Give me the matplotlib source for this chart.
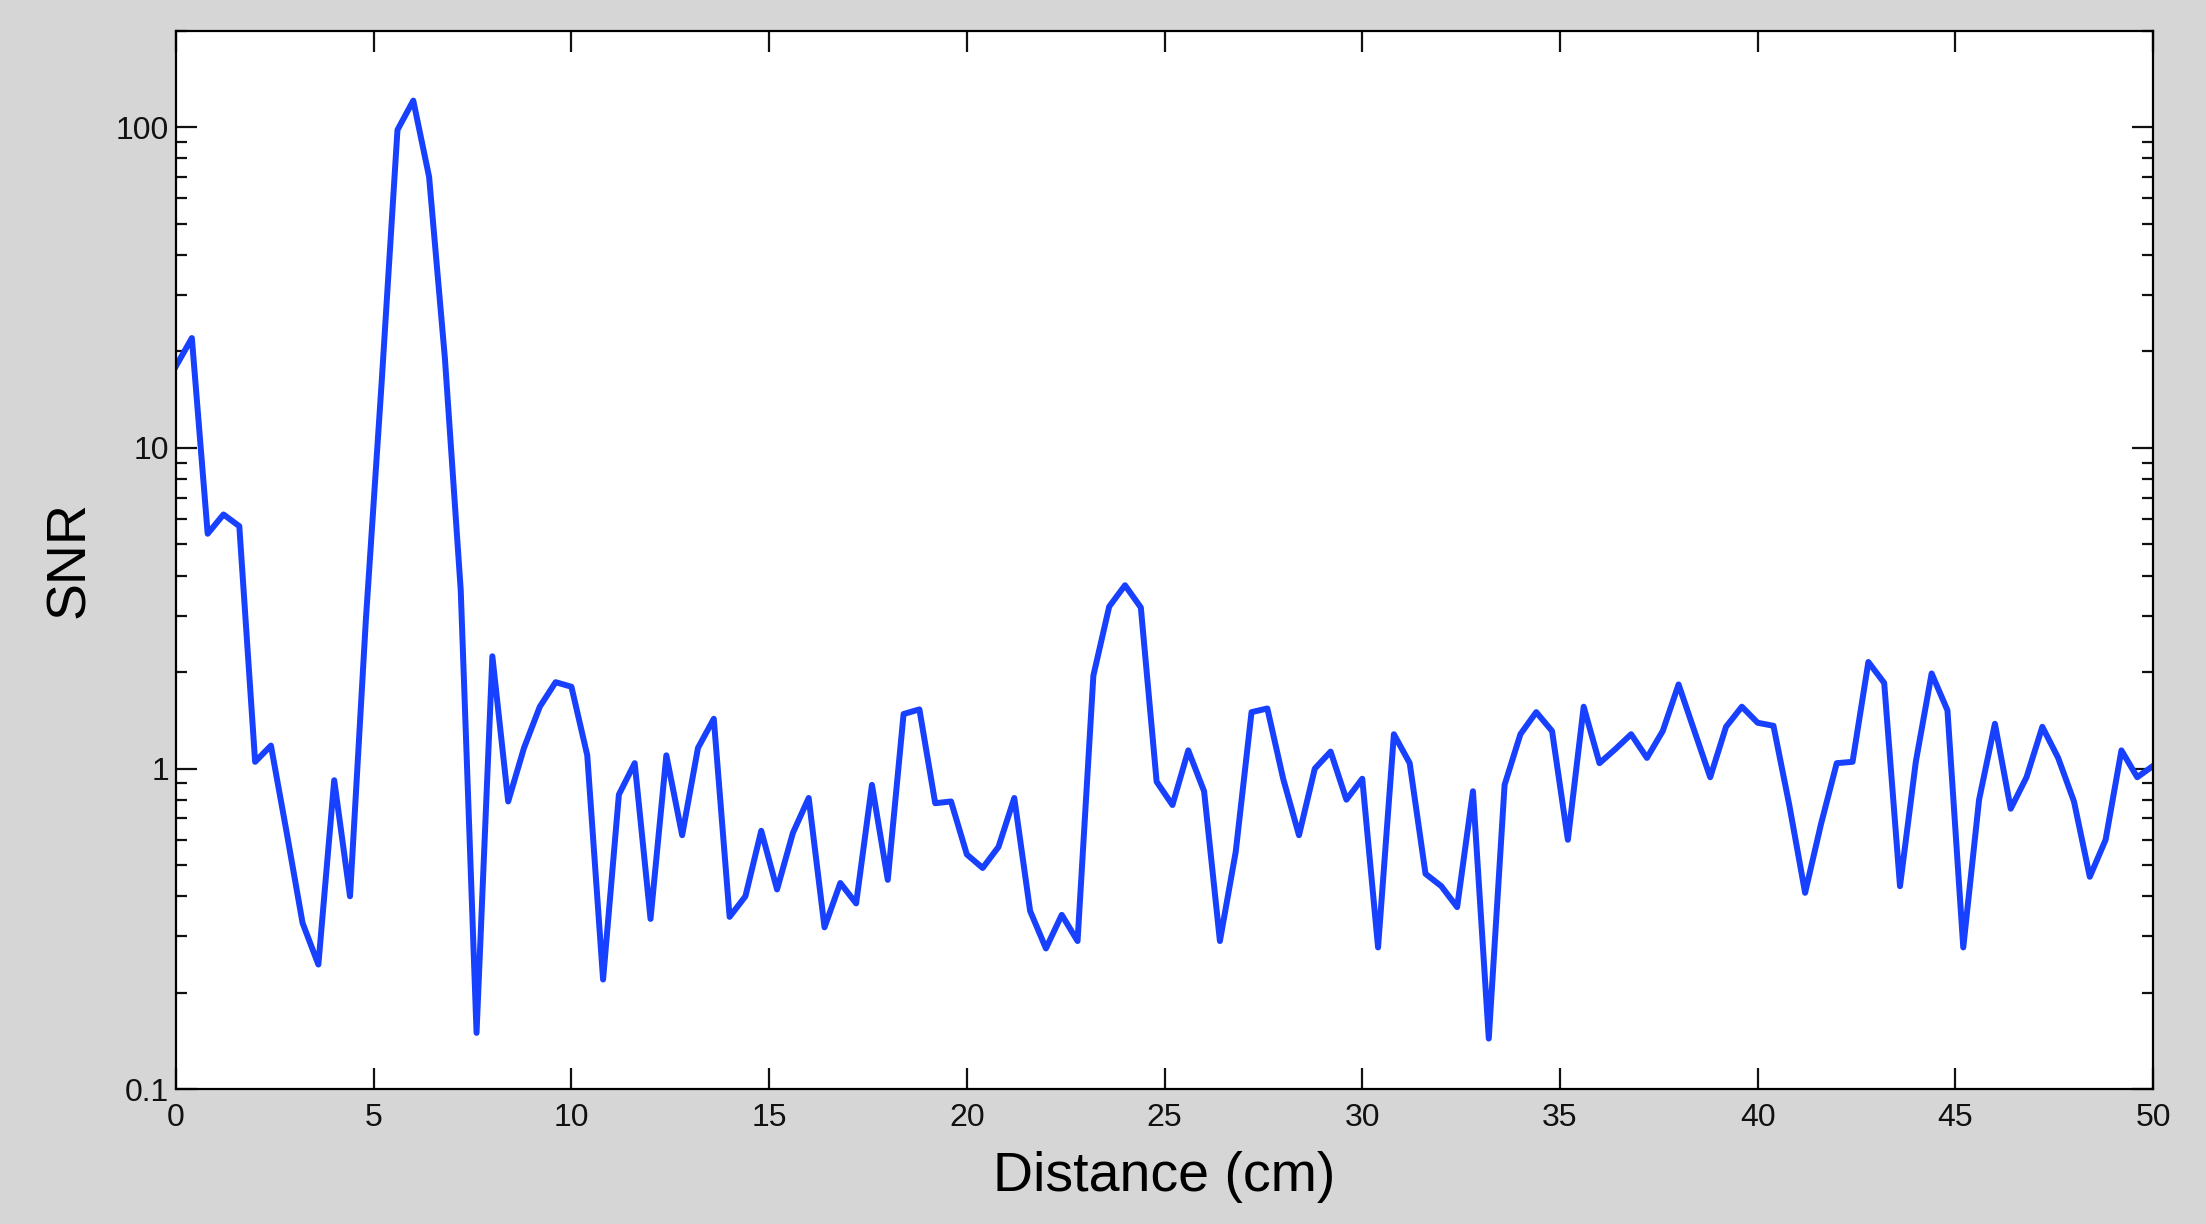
import numpy as np
import matplotlib.pyplot as plt
from matplotlib.ticker import LogLocator, FuncFormatter, MultipleLocator

# SNR, one sample every 0.4 cm from 0 to 50 cm
snr = [18, 22, 5.4, 6.2, 5.7, 1.05, 1.18, 0.63, 0.33, 0.245,        # 0.0 - 3.6
       0.92, 0.40, 2.9, 16, 98, 121, 70, 19, 3.6, 0.15,              # 4.0 - 7.6
       2.24, 0.79, 1.16, 1.56, 1.86, 1.8, 1.1, 0.22, 0.83, 1.04,     # 8.0 - 11.6
       0.34, 1.1, 0.62, 1.16, 1.43, 0.345, 0.40, 0.64, 0.42, 0.63,   # 12.0 - 15.6
       0.81, 0.32, 0.44, 0.38, 0.89, 0.45, 1.48, 1.53, 0.78, 0.79,   # 16.0 - 19.6
       0.54, 0.49, 0.57, 0.81, 0.36, 0.275, 0.35, 0.29, 1.95, 3.2,   # 20.0 - 23.6
       3.73, 3.18, 0.91, 0.77, 1.14, 0.85, 0.29, 0.55, 1.5, 1.54,    # 24.0 - 27.6
       0.93, 0.62, 1.0, 1.13, 0.80, 0.93, 0.277, 1.28, 1.04, 0.47,   # 28.0 - 31.6
       0.43, 0.37, 0.85, 0.144, 0.89, 1.28, 1.5, 1.31, 0.60, 1.56,   # 32.0 - 35.6
       1.04, 1.15, 1.28, 1.08, 1.31, 1.83, 1.31, 0.94, 1.35, 1.56,   # 36.0 - 39.6
       1.39, 1.36, 0.77, 0.41, 0.67, 1.04, 1.05, 2.15, 1.85, 0.43,   # 40.0 - 43.6
       1.05, 1.98, 1.52, 0.277, 0.80, 1.38, 0.75, 0.94, 1.35, 1.08,  # 44.0 - 47.6
       0.79, 0.46, 0.60, 1.14, 0.94, 1.02]                           # 48.0 - 50.0
distance = np.linspace(0, 50, len(snr))

plt.rcParams['font.family'] = ['Liberation Sans', 'DejaVu Sans']

fig = plt.figure(figsize=(22.06, 12.24), dpi=100, facecolor='#d6d6d6')
ax = fig.add_axes([0.0798, 0.110, 0.8962, 0.865])
ax.set_facecolor('white')

ax.plot(distance, snr, color='#1740ff', lw=4.3)

ax.set_yscale('log')
ax.set_xlim(0, 50)
ax.set_ylim(0.1, 200)
ax.xaxis.set_major_locator(MultipleLocator(5))
ax.yaxis.set_major_locator(LogLocator(base=10, numticks=10))
ax.yaxis.set_minor_locator(LogLocator(base=10, subs=np.arange(2, 10), numticks=10))
ax.yaxis.set_major_formatter(FuncFormatter(lambda v, p: '%g' % v))

ax.tick_params(which='both', direction='in', top=True, right=True,
               labelsize=23, width=1.6, colors='#111111')
ax.tick_params(which='major', length=15)
ax.tick_params(which='minor', length=8)
ax.tick_params(axis='x', pad=10)
ax.tick_params(axis='y', pad=5)
for s in ax.spines.values():
    s.set_linewidth(1.6)

ax.set_xlabel('Distance (cm)', fontsize=40, labelpad=13)
ax.set_ylabel('SNR', fontsize=40, labelpad=14)

fig.savefig('out.png', dpi=100, facecolor=fig.get_facecolor())
